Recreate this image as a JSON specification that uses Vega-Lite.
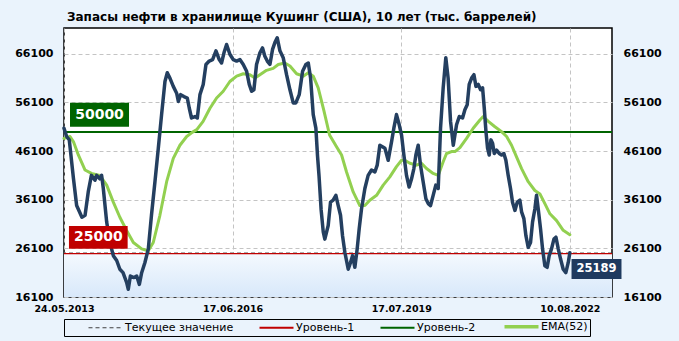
{
  "$schema": "https://vega.github.io/schema/vega-lite/v6.json",
  "width": 548,
  "height": 269,
  "autosize": "none",
  "padding": {"left": 64, "top": 28, "right": 67, "bottom": 44},
  "background": "#eaf3fc",
  "title": {"text": "Запасы нефти в хранилище Кушинг (США), 10 лет (тыс. баррелей)", "anchor": "start", "frame": "group", "dx": 3, "offset": -5, "baseline": "alphabetic", "font": "DejaVu Sans", "fontSize": 12, "fontWeight": "bold", "color": "#000"},
  "config": {
    "view": {"stroke": "#000", "strokeWidth": 1.5, "fill": "white"},
    "axisX": {"labelExpr": "datum.value == 0 ? '24.05.2013' : datum.value == 160 ? '17.06.2016' : datum.value == 320 ? '17.07.2019' : '10.08.2022'", "grid": true, "gridDash": [4, 3], "gridColor": "#c4c4c4", "ticks": false, "domain": false, "labelFont": "DejaVu Sans", "labelFontWeight": "bold", "labelFontSize": 9.5, "labelColor": "#000", "labelPadding": 6, "labelFlush": false, "labelOverlap": false, "labelBound": false},
    "axisY": {"format": "d", "ticks": false, "domain": false, "labelFont": "DejaVu Sans", "labelFontWeight": "bold", "labelFontSize": 11, "labelColor": "#000", "labelPadding": 11, "gridDash": [4, 3], "gridColor": "#c4c4c4", "labelOverlap": false, "labelFlush": false, "labelBound": false}
  },
  "datasets": {
    "stock": [
      {"w": 0, "v": 50800}, {"w": 2.5, "v": 49100}, {"w": 5, "v": 48400}, {"w": 9, "v": 40400}, {"w": 12, "v": 34900}, {"w": 17, "v": 32500}, {"w": 20, "v": 32900}, {"w": 23, "v": 37700}, {"w": 26, "v": 41100}, {"w": 29.4, "v": 40100}, {"w": 31, "v": 41100}, {"w": 34, "v": 40400}, {"w": 35.7, "v": 41100}, {"w": 37.3, "v": 38400}, {"w": 40.5, "v": 31500}, {"w": 43.6, "v": 27300}, {"w": 46.8, "v": 24600}, {"w": 50, "v": 23600}, {"w": 53, "v": 21800}, {"w": 56, "v": 21100}, {"w": 59.4, "v": 19100}, {"w": 61, "v": 17700}, {"w": 63, "v": 20400}, {"w": 66.4, "v": 20100}, {"w": 69, "v": 20400}, {"w": 71.5, "v": 18700}, {"w": 73.7, "v": 21100}, {"w": 76.8, "v": 23200}, {"w": 80, "v": 26000}, {"w": 83, "v": 32900}, {"w": 86.3, "v": 39800}, {"w": 89.5, "v": 46700}, {"w": 92.6, "v": 53600}, {"w": 95.8, "v": 60400}, {"w": 98, "v": 62200}, {"w": 100.5, "v": 61100}, {"w": 103.7, "v": 59400}, {"w": 106.9, "v": 58000}, {"w": 108.5, "v": 56300}, {"w": 110.7, "v": 57700}, {"w": 113.8, "v": 57300}, {"w": 117, "v": 57000}, {"w": 118.9, "v": 54900}, {"w": 121, "v": 52900}, {"w": 124.3, "v": 53200}, {"w": 126.5, "v": 52900}, {"w": 129, "v": 57700}, {"w": 132.1, "v": 59800}, {"w": 134.7, "v": 63900}, {"w": 137.8, "v": 64600}, {"w": 141, "v": 64900}, {"w": 144.2, "v": 66700}, {"w": 147.3, "v": 64900}, {"w": 149.5, "v": 64200}, {"w": 151.8, "v": 66300}, {"w": 154.3, "v": 68000}, {"w": 157.4, "v": 66000}, {"w": 160.6, "v": 64900}, {"w": 163.8, "v": 64600}, {"w": 166.9, "v": 64900}, {"w": 170.1, "v": 63900}, {"w": 173.3, "v": 62500}, {"w": 175.8, "v": 59800}, {"w": 178, "v": 58400}, {"w": 180.2, "v": 58700}, {"w": 182.7, "v": 63900}, {"w": 185.9, "v": 66300}, {"w": 188.4, "v": 67300}, {"w": 190.6, "v": 65600}, {"w": 192.9, "v": 64600}, {"w": 195.4, "v": 63900}, {"w": 197.9, "v": 67000}, {"w": 200.1, "v": 68400}, {"w": 202.3, "v": 69400}, {"w": 204.9, "v": 66700}, {"w": 208, "v": 65300}, {"w": 211.2, "v": 61800}, {"w": 214.4, "v": 58700}, {"w": 217.5, "v": 56000}, {"w": 220, "v": 56000}, {"w": 223.2, "v": 57700}, {"w": 226.4, "v": 62500}, {"w": 229.5, "v": 63900}, {"w": 231.8, "v": 64200}, {"w": 234, "v": 61100}, {"w": 236.5, "v": 53600}, {"w": 239, "v": 50800}, {"w": 240.6, "v": 45000}, {"w": 242, "v": 41000}, {"w": 244, "v": 34000}, {"w": 246, "v": 29500}, {"w": 247.5, "v": 28000}, {"w": 250.7, "v": 30800}, {"w": 252.9, "v": 35600}, {"w": 255.4, "v": 36000}, {"w": 258, "v": 37000}, {"w": 260.2, "v": 34900}, {"w": 262.4, "v": 32900}, {"w": 264.3, "v": 28700}, {"w": 266.5, "v": 25300}, {"w": 269.7, "v": 21800}, {"w": 271.9, "v": 23200}, {"w": 273.8, "v": 24600}, {"w": 276, "v": 22200}, {"w": 278.2, "v": 26000}, {"w": 280.1, "v": 30100}, {"w": 282.3, "v": 34200}, {"w": 285.5, "v": 38400}, {"w": 288.6, "v": 41100}, {"w": 291.8, "v": 42200}, {"w": 295, "v": 41800}, {"w": 297.2, "v": 43200}, {"w": 299.7, "v": 47300}, {"w": 302.2, "v": 47000}, {"w": 304.5, "v": 46700}, {"w": 307.6, "v": 44200}, {"w": 310.8, "v": 48000}, {"w": 313, "v": 50800}, {"w": 315.5, "v": 53600}, {"w": 318.1, "v": 51500}, {"w": 320.3, "v": 49400}, {"w": 322.5, "v": 45300}, {"w": 325, "v": 41100}, {"w": 327.5, "v": 38700}, {"w": 329.8, "v": 40400}, {"w": 332, "v": 42500}, {"w": 333.9, "v": 45300}, {"w": 336.1, "v": 47300}, {"w": 338.3, "v": 43200}, {"w": 340.8, "v": 39800}, {"w": 343.4, "v": 36300}, {"w": 345.6, "v": 35300}, {"w": 347.8, "v": 34900}, {"w": 350.3, "v": 37000}, {"w": 352.8, "v": 39100}, {"w": 355.1, "v": 38400}, {"w": 357.3, "v": 50800}, {"w": 359.8, "v": 59100}, {"w": 362.3, "v": 65300}, {"w": 364.5, "v": 61100}, {"w": 366.8, "v": 52200}, {"w": 369.4, "v": 47300}, {"w": 372.5, "v": 51500}, {"w": 375.1, "v": 53200}, {"w": 378.2, "v": 52900}, {"w": 380.4, "v": 54600}, {"w": 382.6, "v": 55600}, {"w": 384.5, "v": 59800}, {"w": 386.8, "v": 61100}, {"w": 389, "v": 61800}, {"w": 390.9, "v": 59400}, {"w": 393.1, "v": 59800}, {"w": 395.3, "v": 58700}, {"w": 397.2, "v": 59100}, {"w": 398.8, "v": 54900}, {"w": 400.4, "v": 50100}, {"w": 401.9, "v": 46700}, {"w": 403.5, "v": 45300}, {"w": 405.1, "v": 48400}, {"w": 406.7, "v": 47700}, {"w": 408.3, "v": 45600}, {"w": 410.5, "v": 46300}, {"w": 413, "v": 45600}, {"w": 415.2, "v": 45300}, {"w": 417.4, "v": 45600}, {"w": 419.3, "v": 44200}, {"w": 421.5, "v": 41100}, {"w": 423.7, "v": 38400}, {"w": 425.6, "v": 35600}, {"w": 427.9, "v": 33900}, {"w": 430.1, "v": 35600}, {"w": 432.6, "v": 36000}, {"w": 434.2, "v": 33600}, {"w": 436.4, "v": 32200}, {"w": 438.3, "v": 28700}, {"w": 440.5, "v": 26300}, {"w": 442.7, "v": 27300}, {"w": 444.6, "v": 31500}, {"w": 446.8, "v": 34200}, {"w": 448.4, "v": 37000}, {"w": 450, "v": 34200}, {"w": 452.2, "v": 30100}, {"w": 454.1, "v": 26000}, {"w": 456.3, "v": 22500}, {"w": 458.5, "v": 22200}, {"w": 460.4, "v": 24600}, {"w": 462.6, "v": 26000}, {"w": 464.9, "v": 28000}, {"w": 466.8, "v": 28400}, {"w": 469, "v": 26000}, {"w": 471.2, "v": 23900}, {"w": 473.7, "v": 21800}, {"w": 476.2, "v": 21100}, {"w": 478.5, "v": 23200}, {"w": 480, "v": 25189}
    ],
    "ema": [
      {"w": 0, "v": 48700}, {"w": 5.7, "v": 49100}, {"w": 9, "v": 48000}, {"w": 13.6, "v": 45300}, {"w": 20, "v": 42200}, {"w": 26, "v": 41500}, {"w": 34, "v": 41100}, {"w": 40.5, "v": 39100}, {"w": 46.8, "v": 35600}, {"w": 53, "v": 32500}, {"w": 59.4, "v": 29800}, {"w": 65.8, "v": 27300}, {"w": 73.7, "v": 26000}, {"w": 80, "v": 25600}, {"w": 84.7, "v": 27300}, {"w": 91, "v": 32900}, {"w": 97.4, "v": 39800}, {"w": 103.7, "v": 44600}, {"w": 110, "v": 47300}, {"w": 116.4, "v": 49100}, {"w": 122, "v": 50000}, {"w": 126, "v": 50500}, {"w": 132, "v": 52200}, {"w": 138.5, "v": 54900}, {"w": 144.8, "v": 57000}, {"w": 151.1, "v": 58400}, {"w": 157.4, "v": 60400}, {"w": 163.8, "v": 61500}, {"w": 170.1, "v": 62000}, {"w": 176.4, "v": 61800}, {"w": 181.2, "v": 61100}, {"w": 185.9, "v": 61800}, {"w": 192.2, "v": 62700}, {"w": 198.5, "v": 63100}, {"w": 203.3, "v": 63900}, {"w": 209.6, "v": 64200}, {"w": 214.4, "v": 63600}, {"w": 220.7, "v": 62000}, {"w": 227, "v": 61500}, {"w": 231.8, "v": 62200}, {"w": 236.5, "v": 61500}, {"w": 241.2, "v": 59100}, {"w": 246.5, "v": 54500}, {"w": 252, "v": 49400}, {"w": 258.6, "v": 47000}, {"w": 263.4, "v": 45300}, {"w": 268.1, "v": 41800}, {"w": 274.4, "v": 37700}, {"w": 280.7, "v": 34900}, {"w": 285.5, "v": 34900}, {"w": 290.2, "v": 36000}, {"w": 296.6, "v": 37000}, {"w": 302.9, "v": 39100}, {"w": 309.2, "v": 40800}, {"w": 315.5, "v": 42900}, {"w": 320.3, "v": 44200}, {"w": 323.4, "v": 44200}, {"w": 328.2, "v": 43600}, {"w": 334.5, "v": 43200}, {"w": 339.2, "v": 43600}, {"w": 344, "v": 42500}, {"w": 350.3, "v": 41500}, {"w": 355.1, "v": 41100}, {"w": 359.8, "v": 43900}, {"w": 363, "v": 45600}, {"w": 367.7, "v": 46000}, {"w": 371, "v": 46000}, {"w": 375.7, "v": 46800}, {"w": 382, "v": 48700}, {"w": 388.3, "v": 50800}, {"w": 394.7, "v": 52500}, {"w": 397.8, "v": 53200}, {"w": 402.6, "v": 52200}, {"w": 408.9, "v": 51100}, {"w": 415.2, "v": 50100}, {"w": 420, "v": 49100}, {"w": 424.7, "v": 47300}, {"w": 429.4, "v": 44900}, {"w": 434.2, "v": 42500}, {"w": 440.5, "v": 39800}, {"w": 446.8, "v": 38000}, {"w": 451.6, "v": 37300}, {"w": 456.3, "v": 35300}, {"w": 461.1, "v": 33200}, {"w": 467.4, "v": 31800}, {"w": 473.7, "v": 29800}, {"w": 480, "v": 28900}
    ],
    "levels": [
      {"series": "Текущее значение", "level": 25189},
      {"series": "Уровень-1", "level": 25000},
      {"series": "Уровень-2", "level": 50000}
    ],
    "band": [{"w1": 0, "w2": 520, "lo": 16100, "hi": 25000}],
    "tags": [
      {"tag": "50000", "w1": 5.7, "w2": 61.7, "lo": 51110, "hi": 56050, "wm": 33.7, "vm": 53580},
      {"tag": "25000", "w1": 4.7, "w2": 60.4, "lo": 26030, "hi": 30700, "wm": 32.6, "vm": 28365},
      {"tag": "25189", "w1": 481.6, "w2": 529, "lo": 19800, "hi": 23910, "wm": 505.3, "vm": 21855}
    ]
  },
  "resolve": {"axis": {"y": "independent"}},
  "layer": [
    {
      "data": {"name": "band"},
      "mark": {"type": "rect", "fill": {"gradient": "linear", "x1": 0, "y1": 0, "x2": 0, "y2": 1, "stops": [{"offset": 0, "color": "#f4f9fe"}, {"offset": 1, "color": "#d8e8fa"}]}},
      "encoding": {
        "x": {"field": "w1", "type": "quantitative", "title": null, "axis": {"values": [0, 160, 320, 480]}, "scale": {"domain": [0, 520], "nice": false, "zero": false}},
        "x2": {"field": "w2"},
        "y": {"field": "hi", "type": "quantitative", "axis": null, "scale": {"domain": [16100, 71400], "nice": false, "zero": false}},
        "y2": {"field": "lo"}
      }
    },
    {
      "data": {"name": "levels"},
      "mark": {"type": "rule"},
      "encoding": {
        "y": {"field": "level", "type": "quantitative", "axis": null, "scale": {"domain": [16100, 71400], "nice": false, "zero": false}},
        "color": {"field": "series", "type": "nominal", "scale": {"domain": ["Текущее значение", "Уровень-1", "Уровень-2", "EMA(52)"], "range": ["#404040", "#c00000", "#006400", "#92d050"]},
          "legend": {"title": " ", "titleOrient": "left", "titlePadding": 34, "orient": "bottom", "direction": "horizontal", "symbolType": "stroke", "symbolSize": 1156, "symbolStrokeWidth": 2.5, "labelFont": "DejaVu Sans", "labelFontSize": 11, "labelColor": "#000", "labelOffset": 14, "columnPadding": 21, "padding": 2, "strokeColor": "#000", "offset": 6,
            "encode": {"symbols": {"update": {"strokeDash": {"signal": "datum.value === 'Текущее значение' ? [4, 3] : [1, 0]"}, "strokeWidth": {"signal": "datum.value === 'EMA(52)' ? 3.5 : datum.value === 'Текущее значение' ? 1.2 : 2"}}}}}},
        "strokeDash": {"field": "series", "type": "nominal", "legend": null, "scale": {"domain": ["Текущее значение", "Уровень-1", "Уровень-2"], "range": [[4, 3], [1, 0], [1, 0]]}},
        "strokeWidth": {"field": "series", "type": "nominal", "legend": null, "scale": {"domain": ["Текущее значение", "Уровень-1", "Уровень-2"], "range": [0.6, 2, 2.5]}}
      }
    },
    {
      "data": {"name": "ema"},
      "mark": {"type": "line", "strokeWidth": 3, "strokeJoin": "round", "strokeCap": "round"},
      "encoding": {
        "x": {"field": "w", "type": "quantitative", "title": null, "axis": {"values": [0, 160, 320, 480]}, "scale": {"domain": [0, 520], "nice": false, "zero": false}},
        "y": {"field": "v", "type": "quantitative", "title": null, "scale": {"domain": [16100, 71400], "nice": false, "zero": false}, "axis": {"orient": "right", "grid": false, "values": [16100, 26100, 36100, 46100, 56100, 66100]}},
        "color": {"datum": "EMA(52)", "type": "nominal"}
      }
    },
    {
      "data": {"name": "stock"},
      "mark": {"type": "line", "color": "#243f60", "strokeWidth": 3.5, "strokeJoin": "round", "strokeCap": "round"},
      "encoding": {
        "x": {"field": "w", "type": "quantitative", "title": null, "axis": {"values": [0, 160, 320, 480]}, "scale": {"domain": [0, 520], "nice": false, "zero": false}},
        "y": {"field": "v", "type": "quantitative", "title": null, "scale": {"domain": [16100, 71400], "nice": false, "zero": false}, "axis": {"orient": "left", "grid": true, "values": [16100, 26100, 36100, 46100, 56100, 66100]}}
      }
    },
    {
      "data": {"name": "tags"},
      "mark": {"type": "rect", "clip": false},
      "encoding": {
        "x": {"field": "w1", "type": "quantitative", "title": null, "axis": {"values": [0, 160, 320, 480]}, "scale": {"domain": [0, 520], "nice": false, "zero": false}},
        "x2": {"field": "w2"},
        "y": {"field": "hi", "type": "quantitative", "axis": null, "scale": {"domain": [16100, 71400], "nice": false, "zero": false}},
        "y2": {"field": "lo"},
        "fill": {"field": "tag", "type": "nominal", "legend": null, "scale": {"domain": ["50000", "25000", "25189"], "range": ["#006400", "#c00000", "#1f3a5f"]}}
      }
    },
    {
      "data": {"name": "tags"},
      "transform": [{"filter": "datum.tag != '25189'"}],
      "mark": {"type": "text", "color": "white", "font": "DejaVu Sans", "fontWeight": "bold", "fontSize": 14, "align": "center", "baseline": "middle", "clip": false},
      "encoding": {
        "x": {"field": "wm", "type": "quantitative", "title": null, "axis": {"values": [0, 160, 320, 480]}, "scale": {"domain": [0, 520], "nice": false, "zero": false}},
        "y": {"field": "vm", "type": "quantitative", "axis": null, "scale": {"domain": [16100, 71400], "nice": false, "zero": false}},
        "text": {"field": "tag"}
      }
    },
    {
      "data": {"name": "tags"},
      "transform": [{"filter": "datum.tag == '25189'"}],
      "mark": {"type": "text", "color": "white", "font": "DejaVu Sans", "fontWeight": "bold", "fontSize": 11.5, "align": "center", "baseline": "middle", "clip": false},
      "encoding": {
        "x": {"field": "wm", "type": "quantitative", "title": null, "axis": {"values": [0, 160, 320, 480]}, "scale": {"domain": [0, 520], "nice": false, "zero": false}},
        "y": {"field": "vm", "type": "quantitative", "axis": null, "scale": {"domain": [16100, 71400], "nice": false, "zero": false}},
        "text": {"field": "tag"}
      }
    }
  ]
}
